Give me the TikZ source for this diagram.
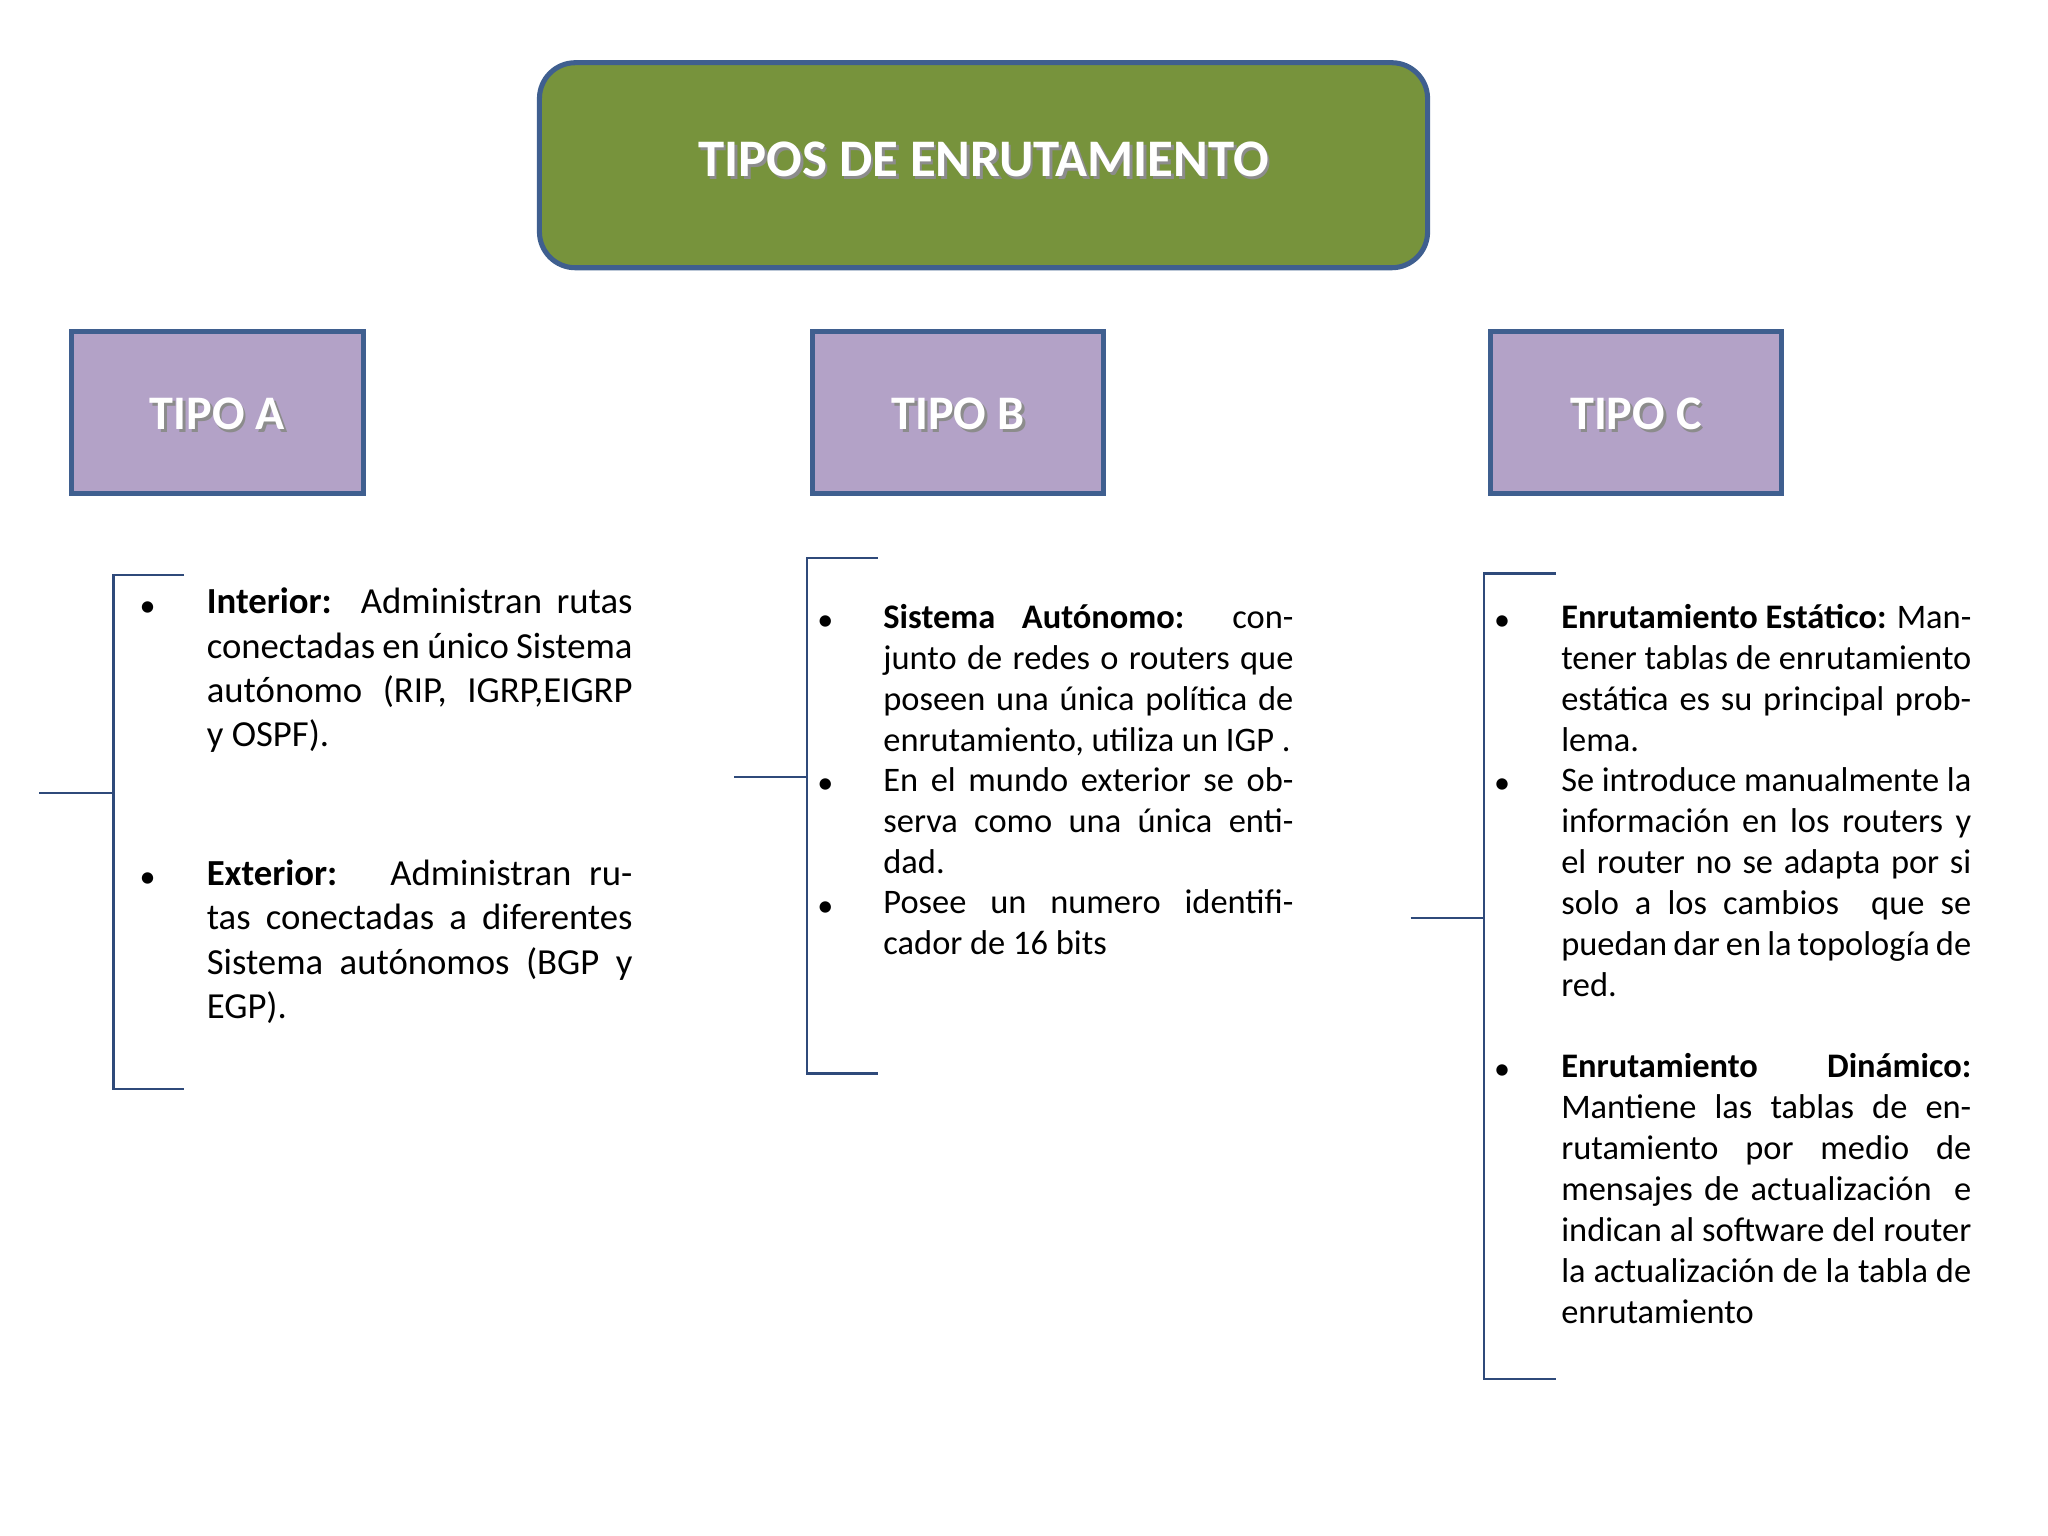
\documentclass[tikz,border=0pt]{standalone}
\usepackage{fontspec}
\setmainfont{Carlito}
\begin{document}
\begin{tikzpicture}[x=0.02cm,y=-0.02cm,
  bord/.style={draw=c_bd,line width=2.2pt},
  brk/.style={draw=c_br,line width=1pt},
  txt/.style={anchor=north west,inner sep=0pt,text width=#1,align=justify,font=\fontsize{15}{17.9}\selectfont},
  txtA/.style={anchor=north west,inner sep=0pt,text width=#1,align=justify,font=\fontsize{16}{19.3}\selectfont},
  bul/.style={inner sep=0pt,font=\fontsize{14}{16}\selectfont},
  shd/.style={text=black!45,font=\bfseries\fontsize{#1}{#1}\selectfont},
  ttl/.style={text=white,font=\bfseries\fontsize{#1}{#1}\selectfont}]
\definecolor{c_bd}{HTML}{3F5F8F}
\definecolor{c_br}{HTML}{2F4A7A}
\definecolor{c_g}{HTML}{77933C}
\definecolor{c_p}{HTML}{B3A2C7}
\useasboundingbox (0,0) rectangle (1568,1176);
% title
\draw[bord,fill=c_g,rounded corners=0.55cm] (413,48) rectangle (1093,205);
\node[shd=23] at (755,124) {TIPOS DE ENRUTAMIENTO};
\node[ttl=23] (t) at (753,122) {TIPOS DE ENRUTAMIENTO};
% type boxes
\foreach \x/\l in {55/A,622/B,1141/C}{
  \draw[bord,fill=c_p] (\x,254) rectangle ++(223,124);
  \node[shd=21] at (\x+113.5,319) {TIPO \l};
  \node[ttl=21] (b\l) at (\x+111.5,317) {TIPO \l};
}
% brackets
\coordinate (a1) at (141,440); \coordinate (a2) at (87,440); \coordinate (a3) at (87,834); \coordinate (a4) at (141,834);
\coordinate (a5) at (30,607); \coordinate (a6) at (87,607);
\draw[brk] (a1)--(a2)--(a3)--(a4); \draw[brk] (a5)--(a6);
\coordinate (b1) at (672,427); \coordinate (b2) at (618,427); \coordinate (b3) at (618,822); \coordinate (b4) at (672,822);
\coordinate (b5) at (562,595); \coordinate (b6) at (618,595);
\draw[brk] (b1)--(b2)--(b3)--(b4); \draw[brk] (b5)--(b6);
\coordinate (c1) at (1191,439); \coordinate (c2) at (1136,439); \coordinate (c3) at (1136,1056); \coordinate (c4) at (1191,1056);
\coordinate (c5) at (1080,703); \coordinate (c6) at (1136,703);
\draw[brk] (c1)--(c2)--(c3)--(c4); \draw[brk] (c5)--(c6);
% Tipo A text
\node[bul] (ba1) at (113,466) {•};
\node[txtA=6.52cm] (ta1) at (158,450) {\textbf{Interior:}\ \ Administran rutas conectadas en único Sistema autónomo (RIP, IGRP,EIGRP y OSPF).};
\node[bul] (ba2) at (113,674) {•};
\node[txtA=6.52cm] (ta2) at (158,658) {\textbf{Exterior:}\ \ \ Administran rutas conectadas a diferentes Sistema autónomos (BGP y EGP).};
% Tipo B text
\node[bul] (bb1) at (632,477) {•};
\node[txt=6.28cm] (tb1) at (676,462) {\textbf{Sistema Autónomo:} conjunto de redes o routers que poseen una única política de enrutamiento, utiliza un IGP .};
\node[bul] (bb2) at (632,602) {•};
\node[txt=6.28cm] (tb2) at (676,587) {En el mundo exterior se observa como una única entidad.};
\node[bul] (bb3) at (632,696) {•};
\node[txt=6.28cm] (tb3) at (676,681) {Posee un numero identificador de 16 bits};
% Tipo C text
\node[bul] (bc1) at (1150,477) {•};
\node[txt=6.28cm] (tc1) at (1195,462) {\textbf{Enrutamiento Estático:} Mantener tablas de enrutamiento estática es su principal problema.};
\node[bul] (bc2) at (1150,602) {•};
\node[txt=6.28cm] (tc2) at (1195,587) {Se introduce manualmente la información en los routers y el router no se adapta por si solo a los cambios\ \ que se puedan dar en la topología de red.};
\node[bul] (bc3) at (1150,821) {•};
\node[txt=6.28cm] (tc3) at (1195,806) {\textbf{Enrutamiento Dinámico:} Mantiene las tablas de enrutamiento por medio de mensajes de actualización\ \ e indican al software del router la actualización de la tabla de enrutamiento};
\end{tikzpicture}
\end{document}
